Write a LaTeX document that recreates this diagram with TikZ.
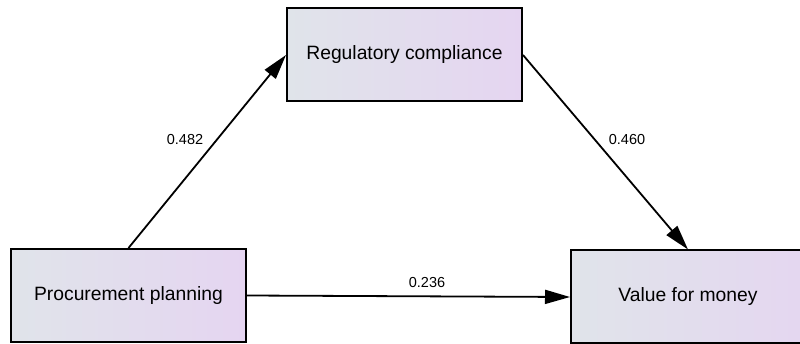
\documentclass[tikz,border=0pt]{standalone}
\usepackage{fontspec}
\setmainfont{Liberation Sans}
\usetikzlibrary{arrows.meta}
\definecolor{boxleft}{RGB}{224,228,234}
\definecolor{boxright}{RGB}{229,213,241}
\tikzset{
  varbox/.style={draw=black, line width=2pt, left color=boxleft, right color=boxright,
    minimum width=235pt, minimum height=93pt, inner sep=0pt,
    font=\fontsize{19.3pt}{22pt}\selectfont},
  path/.style={draw=black, line width=1.8pt, -{Triangle[length=25pt,width=14pt]}},
  coef/.style={font=\fontsize{14.5pt}{17pt}\selectfont, inner sep=0pt}
}
\begin{document}
\begin{tikzpicture}[x=1pt,y=-1pt]
\useasboundingbox (0,0) rectangle (800,344);
\fill[white] (0,0) rectangle (800,344);
\node[varbox, minimum width=260pt] (vm) at (701,297) {\hspace*{-26pt}Value for money};
\node[varbox] (rc) at (404.5,55) {Regulatory compliance};
\node[varbox] (pp) at (128.5,295.5) {Procurement planning};
\draw[path] (pp.north) -- (rc.west);
\draw[path] (rc.east) -- ([xshift=-13pt]vm.north);
\draw[path] (pp.east) -- (vm.west);
\node[coef] (c1) at (185,140) {0.482};
\node[coef] (c2) at (627,140) {0.460};
\node[coef] (c3) at (427,283) {0.236};
\end{tikzpicture}
\end{document}
